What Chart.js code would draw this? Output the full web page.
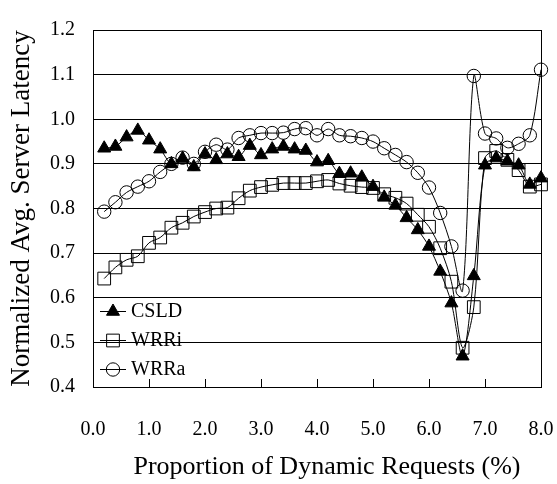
<!DOCTYPE html>
<html>
<head>
<meta charset="utf-8">
<script src="https://cdn.jsdelivr.net/npm/chart.js@4"></script>
<style>
  body { margin: 0; background: #fff; }
  #wrap { width: 557px; height: 484px; }
</style>
</head>
<body>
<div id="wrap"><canvas id="latencyChart" width="557" height="484"></canvas></div>
<script>
// proportion of dynamic requests (%)
const proportions = [0.2, 0.4, 0.6, 0.8, 1.0, 1.2, 1.4, 1.6, 1.8, 2.0,
                     2.2, 2.4, 2.6, 2.8, 3.0, 3.2, 3.4, 3.6, 3.8, 4.0,
                     4.2, 4.4, 4.6, 4.8, 5.0, 5.2, 5.4, 5.6, 5.8, 6.0,
                     6.2, 6.4, 6.6, 6.8, 7.0, 7.2, 7.4, 7.6, 7.8, 8.0];

const csld = [0.935, 0.939, 0.960, 0.975, 0.953, 0.933, 0.900, 0.912, 0.893, 0.922,
              0.909, 0.922, 0.916, 0.941, 0.920, 0.933, 0.939, 0.933, 0.930, 0.904,
              0.907, 0.878, 0.879, 0.870, 0.849, 0.825, 0.807, 0.779, 0.752, 0.715,
              0.659, 0.588, 0.469, 0.649, 0.897, 0.913, 0.906, 0.897, 0.854, 0.868];

const wrri = [0.643, 0.668, 0.685, 0.693, 0.723, 0.735, 0.757, 0.768, 0.782, 0.792,
              0.800, 0.802, 0.823, 0.840, 0.848, 0.853, 0.857, 0.857, 0.857, 0.861,
              0.864, 0.856, 0.851, 0.848, 0.846, 0.832, 0.824, 0.811, 0.786, 0.759,
              0.711, 0.636, 0.488, 0.579, 0.913, 0.929, 0.909, 0.886, 0.849, 0.854];

const wrra = [0.793, 0.814, 0.836, 0.849, 0.861, 0.882, 0.900, 0.914, 0.900, 0.927,
              0.943, 0.932, 0.958, 0.964, 0.969, 0.969, 0.970, 0.978, 0.980, 0.964,
              0.978, 0.964, 0.962, 0.958, 0.950, 0.935, 0.920, 0.904, 0.880, 0.847,
              0.790, 0.715, 0.616, 1.097, 0.968, 0.957, 0.936, 0.945, 0.964, 1.111];

const xTicks = [0, 1, 2, 3, 4, 5, 6, 7, 8];
const yTicks = [0.4, 0.5, 0.6, 0.7, 0.8, 0.9, 1.0, 1.1, 1.2];
const xTitle = 'Proportion of Dynamic Requests (%)';

const serif = "'Liberation Serif', 'Times New Roman', serif";

function toPoints(values) {
    return proportions.map((p, i) => ({ x: p, y: values[i] }));
}

function series(label, values, style, radius, fill) {
    return {
        label: label,
        data: toPoints(values),
        borderColor: '#000',
        borderWidth: 1,
        tension: 0.3,
        pointStyle: style,
        pointRadius: radius,
        pointBorderColor: '#000',
        pointBorderWidth: 1,
        pointBackgroundColor: fill,
        clip: false,
    };
}

// frame, inward x ticks, x title and the legend inside the plot
const framePlugin = {
    id: 'frame',
    afterDraw(chart) {
        const ctx = chart.ctx;
        const area = chart.chartArea;
        const xScale = chart.scales.x;
        ctx.save();
        ctx.strokeStyle = '#000';
        ctx.lineWidth = 1;
        ctx.strokeRect(Math.round(area.left) + 0.5, Math.round(area.top) + 0.5,
                       Math.round(area.right - area.left), Math.round(area.bottom - area.top));
        ctx.beginPath();
        xTicks.forEach(v => {
            const px = Math.round(xScale.getPixelForValue(v)) + 0.5;
            ctx.moveTo(px, area.bottom);
            ctx.lineTo(px, area.bottom - 8);
        });
        ctx.stroke();

        // x axis title, sits a little right of the plot centre in the original
        ctx.fillStyle = '#000';
        ctx.font = '26px ' + serif;
        ctx.textAlign = 'center';
        ctx.textBaseline = 'middle';
        ctx.fillText(xTitle, (area.left + area.right) / 2 + 10, 467);

        // legend
        const rows = [311, 340, 369];
        chart.data.datasets.forEach((ds, i) => {
            const y = rows[i];
            ctx.strokeStyle = '#000';
            ctx.lineWidth = 1;
            ctx.beginPath();
            ctx.moveTo(100, y + 0.5);
            ctx.lineTo(126, y + 0.5);
            ctx.stroke();
            ctx.fillStyle = ds.pointBackgroundColor;
            Chart.helpers.drawPoint(ctx, {
                pointStyle: ds.pointStyle, radius: ds.pointRadius, rotation: 0, borderWidth: 1
            }, 113, y + 0.5);
            ctx.fillStyle = '#000';
            ctx.font = '20px ' + serif;
            ctx.textBaseline = 'middle';
            ctx.textAlign = 'left';
            ctx.fillText(ds.label, 131, y + 1);
        });
        ctx.restore();
    }
};

const ctx = document.getElementById('latencyChart').getContext('2d');
new Chart(ctx, {
    type: 'line',
    data: {
        datasets: [
            series('CSLD', csld, 'triangle', 7.5, '#000'),
            series('WRRi', wrri, 'rect', 9, 'rgba(0,0,0,0)'),
            series('WRRa', wrra, 'circle', 6.7, 'rgba(0,0,0,0)'),
        ]
    },
    options: {
        responsive: false,
        animation: false,
        layout: { padding: { top: 13, right: 16, left: 0, bottom: 0 } },
        plugins: {
            legend: { display: false },
            tooltip: { enabled: false },
        },
        scales: {
            x: {
                type: 'linear',
                min: 0,
                max: 8,
                afterFit: scale => {
                    scale.height = 97;
                    scale.paddingLeft = 0;
                    scale.paddingRight = 0;
                },
                afterBuildTicks: scale => { scale.ticks = xTicks.map(v => ({ value: v })); },
                ticks: {
                    callback: v => Number(v).toFixed(1),
                    color: '#000',
                    font: { family: serif, size: 20 },
                    padding: 31,
                    maxRotation: 0,
                },
                grid: { display: false, drawTicks: false },
                border: { display: true, color: '#000', width: 1 },
                title: { display: false },
            },
            y: {
                min: 0.4,
                max: 1.2,
                afterFit: scale => { scale.width = 93; },
                afterBuildTicks: scale => { scale.ticks = yTicks.map(v => ({ value: v })); },
                ticks: {
                    callback: v => Number(v).toFixed(1),
                    color: '#000',
                    font: { family: serif, size: 20 },
                    padding: 18,
                },
                grid: { color: '#000', lineWidth: 1, drawTicks: false },
                border: { display: true, color: '#000', width: 1 },
                title: {
                    display: true,
                    text: 'Normalized Avg. Server Latency',
                    color: '#000',
                    font: { family: serif, size: 27 },
                    padding: { top: 6, bottom: 0 },
                },
            },
        },
    },
    plugins: [framePlugin],
});
</script>
</body>
</html>
